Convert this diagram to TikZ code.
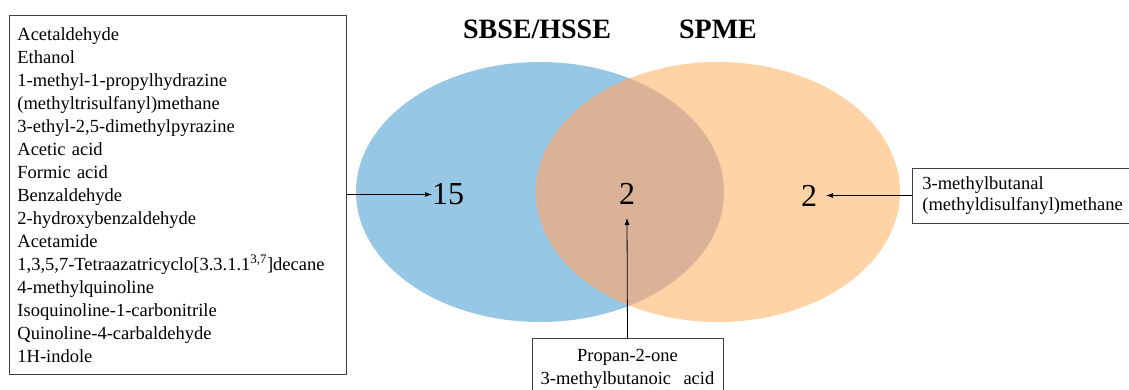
\documentclass[tikz,border=0pt]{standalone}
\usepackage{fontspec}
\setmainfont{Liberation Serif}
\usetikzlibrary{arrows.meta}
\definecolor{vblue}{RGB}{150,200,229}
\definecolor{vorange}{RGB}{255,211,165}
\definecolor{vmix}{RGB}{218,178,151}
\tikzset{
  listbox/.style={draw=black!75, line width=0.8pt, fill=white, align=left, inner ysep=0pt},
  listfont/.style={font=\fontsize{18.5}{23}\selectfont},
  bignum/.style={font=\fontsize{32}{36}\selectfont, inner sep=0pt},
  heading/.style={font=\fontsize{28}{30}\selectfont\bfseries, inner sep=0pt},
  arr/.style={-{Latex[length=7pt,width=5pt]}, line width=0.8pt, black}
}
\begin{document}
\begin{tikzpicture}[x=1pt,y=-1pt]
\useasboundingbox (0,0) rectangle (1129,389);
% ellipses
\fill[vblue] (540,192) ellipse [x radius=184pt, y radius=130pt];
\fill[vorange] (718,192) ellipse [x radius=182pt, y radius=130pt];
\begin{scope}
  \clip (540,192) ellipse [x radius=184pt, y radius=130pt];
  \fill[vmix] (718,192) ellipse [x radius=182pt, y radius=130pt];
\end{scope}
% headings
\node[heading] (h1) at (537,29) {SBSE/HSSE};
\node[heading] (h2) at (718,29) {SPME};
% numbers
\node[bignum, anchor=west] (n15) at (432,194.5) {15};
\node[bignum] (n2m) at (627,194) {2};
\node[bignum] (n2r) at (809,195.5) {2};
% left box
\node[listbox, listfont, anchor=north west, text width=321pt, inner xsep=8pt, minimum height=359pt] (lbox) at (9,15) {%
Acetaldehyde\\
Ethanol\\
1-methyl-1-propylhydrazine\\
(methyltrisulfanyl)methane\\
3-ethyl-2,5-dimethylpyrazine\\
Acetic acid\\
Formic acid\\
Benzaldehyde\\
2-hydroxybenzaldehyde\\
Acetamide\\
1,3,5,7-Tetraazatricyclo[3.3.1.1\textsuperscript{3,7}]decane\\
4-methylquinoline\\
Isoquinoline-1-carbonitrile\\
Quinoline-4-carbaldehyde\\
1H-indole};
% right box
\node[listbox, font=\fontsize{18.5}{21}\selectfont, anchor=west, text width=206pt, inner xsep=10pt, minimum height=55pt] (rbox) at (912,195.5) {%
3-methylbutanal\\
(methyldisulfanyl)methane};
% bottom box
\node[listbox, font=\fontsize{18.5}{23}\selectfont, align=center, anchor=north, text width=185pt, inner xsep=3pt, inner ysep=11pt] (bbox) at (627.5,338) {%
Propan-2-one\\
3-methylbutanoic\ \ acid};
% arrows
\draw[arr] (lbox.east |- n15.west) -- (n15.west);
\draw[arr] (rbox.west) -- ([xshift=17pt]n2r.center);
\draw[arr] (bbox.north) -- ([yshift=-24pt]n2m.center);
\end{tikzpicture}
\end{document}
